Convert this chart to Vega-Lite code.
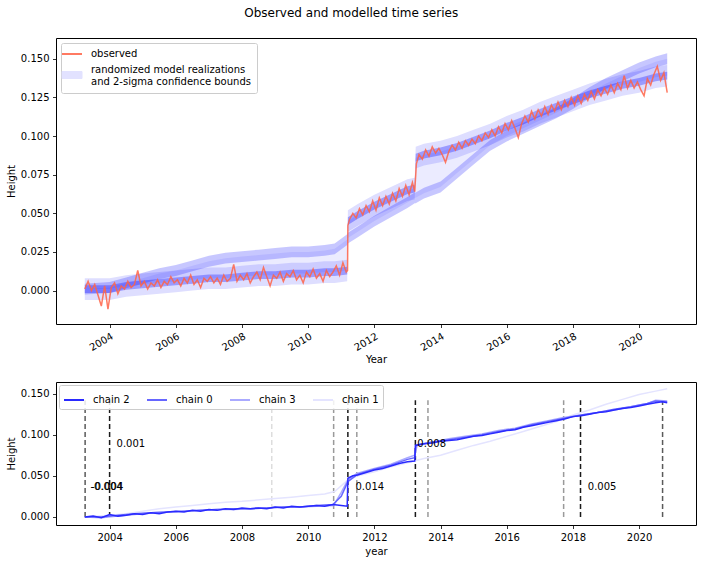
{
  "$schema": "https://vega.github.io/schema/vega-lite/v6.json",
  "padding": {"left": 5, "top": 6, "right": 6, "bottom": 4},
  "title": {"text": "Observed and modelled time series", "fontSize": 12, "fontWeight": "normal", "font": "DejaVu Sans", "color": "#000", "anchor": "middle", "offset": 18},
  "datasets": {
    "obs": [
      {"t":2003.25,"h":0.001},{"t":2003.35,"h":0.006},{"t":2003.45,"h":0.000},{"t":2003.55,"h":0.004},{"t":2003.65,"h":-0.003},{"t":2003.75,"h":-0.010},{"t":2003.85,"h":0.003},{"t":2003.95,"h":-0.012},
      {"t":2004.05,"h":0.002},{"t":2004.15,"h":0.005},{"t":2004.25,"h":-0.002},{"t":2004.35,"h":0.003},{"t":2004.45,"h":0.001},{"t":2004.55,"h":0.006},{"t":2004.65,"h":0.002},{"t":2004.75,"h":0.004},{"t":2004.85,"h":0.013},{"t":2004.95,"h":0.003},
      {"t":2005.05,"h":0.006},{"t":2005.15,"h":0.001},{"t":2005.25,"h":0.005},{"t":2005.35,"h":0.003},{"t":2005.45,"h":0.007},{"t":2005.55,"h":0.002},{"t":2005.65,"h":0.006},{"t":2005.75,"h":0.004},{"t":2005.85,"h":0.009},{"t":2005.95,"h":0.005},
      {"t":2006.05,"h":0.007},{"t":2006.15,"h":0.003},{"t":2006.25,"h":0.008},{"t":2006.35,"h":0.005},{"t":2006.45,"h":0.010},{"t":2006.55,"h":0.004},{"t":2006.65,"h":0.007},{"t":2006.75,"h":0.002},{"t":2006.85,"h":0.008},{"t":2006.95,"h":0.006},
      {"t":2007.05,"h":0.009},{"t":2007.15,"h":0.005},{"t":2007.25,"h":0.008},{"t":2007.35,"h":0.004},{"t":2007.45,"h":0.010},{"t":2007.55,"h":0.006},{"t":2007.65,"h":0.008},{"t":2007.75,"h":0.017},{"t":2007.85,"h":0.006},{"t":2007.95,"h":0.010},
      {"t":2008.05,"h":0.007},{"t":2008.15,"h":0.011},{"t":2008.25,"h":0.005},{"t":2008.35,"h":0.009},{"t":2008.45,"h":0.012},{"t":2008.55,"h":0.007},{"t":2008.65,"h":0.015},{"t":2008.75,"h":0.009},{"t":2008.85,"h":0.003},{"t":2008.95,"h":0.010},
      {"t":2009.05,"h":0.008},{"t":2009.15,"h":0.012},{"t":2009.25,"h":0.006},{"t":2009.35,"h":0.011},{"t":2009.45,"h":0.009},{"t":2009.55,"h":0.013},{"t":2009.65,"h":0.007},{"t":2009.75,"h":0.010},{"t":2009.85,"h":0.005},{"t":2009.95,"h":0.012},
      {"t":2010.05,"h":0.009},{"t":2010.15,"h":0.014},{"t":2010.25,"h":0.008},{"t":2010.35,"h":0.011},{"t":2010.45,"h":0.006},{"t":2010.55,"h":0.013},{"t":2010.65,"h":0.009},{"t":2010.75,"h":0.012},{"t":2010.85,"h":0.016},{"t":2010.95,"h":0.010},
      {"t":2011.05,"h":0.018},{"t":2011.15,"h":0.012},{"t":2011.19,"h":0.013},{"t":2011.2,"h":0.042},{"t":2011.25,"h":0.046},{"t":2011.35,"h":0.050},{"t":2011.45,"h":0.047},{"t":2011.55,"h":0.053},{"t":2011.65,"h":0.049},{"t":2011.75,"h":0.055},{"t":2011.85,"h":0.051},{"t":2011.95,"h":0.058},
      {"t":2012.05,"h":0.052},{"t":2012.15,"h":0.060},{"t":2012.25,"h":0.055},{"t":2012.35,"h":0.061},{"t":2012.45,"h":0.056},{"t":2012.55,"h":0.063},{"t":2012.65,"h":0.058},{"t":2012.75,"h":0.066},{"t":2012.85,"h":0.061},{"t":2012.95,"h":0.068},
      {"t":2013.05,"h":0.062},{"t":2013.15,"h":0.070},{"t":2013.22,"h":0.064},{"t":2013.27,"h":0.082},{"t":2013.35,"h":0.088},{"t":2013.45,"h":0.085},{"t":2013.55,"h":0.091},{"t":2013.65,"h":0.087},{"t":2013.75,"h":0.093},{"t":2013.85,"h":0.089},{"t":2013.95,"h":0.092},
      {"t":2014.05,"h":0.088},{"t":2014.15,"h":0.083},{"t":2014.25,"h":0.090},{"t":2014.35,"h":0.094},{"t":2014.45,"h":0.091},{"t":2014.55,"h":0.096},{"t":2014.65,"h":0.092},{"t":2014.75,"h":0.097},{"t":2014.85,"h":0.094},{"t":2014.95,"h":0.098},
      {"t":2015.05,"h":0.095},{"t":2015.15,"h":0.100},{"t":2015.25,"h":0.097},{"t":2015.35,"h":0.102},{"t":2015.45,"h":0.099},{"t":2015.55,"h":0.104},{"t":2015.65,"h":0.100},{"t":2015.75,"h":0.106},{"t":2015.85,"h":0.102},{"t":2015.95,"h":0.108},
      {"t":2016.05,"h":0.104},{"t":2016.15,"h":0.110},{"t":2016.25,"h":0.105},{"t":2016.35,"h":0.099},{"t":2016.45,"h":0.108},{"t":2016.55,"h":0.113},{"t":2016.65,"h":0.109},{"t":2016.75,"h":0.116},{"t":2016.85,"h":0.111},{"t":2016.95,"h":0.117},
      {"t":2017.05,"h":0.113},{"t":2017.15,"h":0.119},{"t":2017.25,"h":0.114},{"t":2017.35,"h":0.120},{"t":2017.45,"h":0.116},{"t":2017.55,"h":0.122},{"t":2017.65,"h":0.117},{"t":2017.75,"h":0.123},{"t":2017.85,"h":0.119},{"t":2017.95,"h":0.125},
      {"t":2018.05,"h":0.120},{"t":2018.15,"h":0.126},{"t":2018.25,"h":0.121},{"t":2018.35,"h":0.127},{"t":2018.45,"h":0.123},{"t":2018.55,"h":0.129},{"t":2018.65,"h":0.124},{"t":2018.75,"h":0.130},{"t":2018.85,"h":0.126},{"t":2018.95,"h":0.131},
      {"t":2019.05,"h":0.127},{"t":2019.15,"h":0.133},{"t":2019.25,"h":0.128},{"t":2019.35,"h":0.134},{"t":2019.45,"h":0.130},{"t":2019.55,"h":0.139},{"t":2019.65,"h":0.131},{"t":2019.75,"h":0.136},{"t":2019.85,"h":0.131},{"t":2019.95,"h":0.135},
      {"t":2020.05,"h":0.130},{"t":2020.15,"h":0.126},{"t":2020.25,"h":0.137},{"t":2020.35,"h":0.133},{"t":2020.45,"h":0.140},{"t":2020.55,"h":0.145},{"t":2020.65,"h":0.136},{"t":2020.75,"h":0.141},{"t":2020.85,"h":0.128}
    ],
    "bands": [
      {"t":2003.25,"tr":0.001,"st":0.001,"wlo":-0.006,"whi":0.008,"clo":-0.0015,"chi":0.0035,"slo":-0.0025,"shi":0.0045},
      {"t":2004.0,"tr":0.001,"st":0.002,"wlo":-0.006,"whi":0.008,"clo":-0.0015,"chi":0.0035,"slo":-0.0015,"shi":0.0055},
      {"t":2004.5,"tr":0.003,"st":0.005,"wlo":-0.004,"whi":0.010,"clo":0.0005,"chi":0.0055,"slo":0.0015,"shi":0.0085},
      {"t":2005.0,"tr":0.004,"st":0.008,"wlo":-0.003,"whi":0.011,"clo":0.0015,"chi":0.0065,"slo":0.0045,"shi":0.0115},
      {"t":2005.5,"tr":0.005,"st":0.011,"wlo":-0.002,"whi":0.012,"clo":0.0025,"chi":0.0075,"slo":0.0075,"shi":0.0145},
      {"t":2006.0,"tr":0.006,"st":0.013,"wlo":-0.001,"whi":0.013,"clo":0.0035,"chi":0.0085,"slo":0.0095,"shi":0.0165},
      {"t":2006.5,"tr":0.007,"st":0.016,"wlo":0.000,"whi":0.014,"clo":0.0045,"chi":0.0095,"slo":0.0125,"shi":0.0195},
      {"t":2007.0,"tr":0.008,"st":0.019,"wlo":0.001,"whi":0.015,"clo":0.0055,"chi":0.0105,"slo":0.0155,"shi":0.0225},
      {"t":2007.5,"tr":0.008,"st":0.021,"wlo":0.001,"whi":0.015,"clo":0.0055,"chi":0.0105,"slo":0.0175,"shi":0.0245},
      {"t":2008.0,"tr":0.009,"st":0.022,"wlo":0.002,"whi":0.016,"clo":0.0065,"chi":0.0115,"slo":0.0185,"shi":0.0255},
      {"t":2008.5,"tr":0.010,"st":0.023,"wlo":0.003,"whi":0.017,"clo":0.0075,"chi":0.0125,"slo":0.0195,"shi":0.0265},
      {"t":2009.0,"tr":0.010,"st":0.024,"wlo":0.003,"whi":0.017,"clo":0.0075,"chi":0.0125,"slo":0.0205,"shi":0.0275},
      {"t":2009.5,"tr":0.011,"st":0.025,"wlo":0.004,"whi":0.018,"clo":0.0085,"chi":0.0135,"slo":0.0215,"shi":0.0285},
      {"t":2010.0,"tr":0.011,"st":0.025,"wlo":0.004,"whi":0.018,"clo":0.0085,"chi":0.0135,"slo":0.0215,"shi":0.0285},
      {"t":2010.5,"tr":0.012,"st":0.026,"wlo":0.005,"whi":0.019,"clo":0.0095,"chi":0.0145,"slo":0.0225,"shi":0.0295},
      {"t":2010.8,"tr":0.012,"st":0.027,"wlo":0.005,"whi":0.019,"clo":0.0095,"chi":0.0145,"slo":0.0235,"shi":0.0305},
      {"t":2011.18,"tr":0.013,"st":0.033,"wlo":0.006,"whi":0.020,"clo":0.0105,"chi":0.0155,"slo":0.0295,"shi":0.0365},
      {"t":2011.2,"tr":0.045,"st":0.034,"wlo":0.038,"whi":0.052,"clo":0.0425,"chi":0.0475,"slo":0.0305,"shi":0.0375},
      {"t":2011.5,"tr":0.049,"st":0.038,"wlo":0.042,"whi":0.056,"clo":0.0465,"chi":0.0515,"slo":0.0345,"shi":0.0415},
      {"t":2012.0,"tr":0.055,"st":0.045,"wlo":0.048,"whi":0.062,"clo":0.0525,"chi":0.0575,"slo":0.0415,"shi":0.0485},
      {"t":2012.5,"tr":0.060,"st":0.051,"wlo":0.053,"whi":0.067,"clo":0.0575,"chi":0.0625,"slo":0.0475,"shi":0.0545},
      {"t":2013.0,"tr":0.065,"st":0.057,"wlo":0.058,"whi":0.072,"clo":0.0625,"chi":0.0675,"slo":0.0535,"shi":0.0605},
      {"t":2013.22,"tr":0.066,"st":0.060,"wlo":0.059,"whi":0.073,"clo":0.0635,"chi":0.0685,"slo":0.0565,"shi":0.0635},
      {"t":2013.25,"tr":0.086,"st":0.060,"wlo":0.079,"whi":0.093,"clo":0.0835,"chi":0.0885,"slo":0.0565,"shi":0.0635},
      {"t":2013.5,"tr":0.088,"st":0.063,"wlo":0.081,"whi":0.095,"clo":0.0855,"chi":0.0905,"slo":0.0595,"shi":0.0665},
      {"t":2014.0,"tr":0.090,"st":0.067,"wlo":0.083,"whi":0.097,"clo":0.0875,"chi":0.0925,"slo":0.0635,"shi":0.0705},
      {"t":2014.5,"tr":0.093,"st":0.076,"wlo":0.086,"whi":0.100,"clo":0.0905,"chi":0.0955,"slo":0.0725,"shi":0.0795},
      {"t":2015.0,"tr":0.097,"st":0.085,"wlo":0.090,"whi":0.104,"clo":0.0945,"chi":0.0995,"slo":0.0815,"shi":0.0885},
      {"t":2015.5,"tr":0.101,"st":0.094,"wlo":0.094,"whi":0.108,"clo":0.0985,"chi":0.1035,"slo":0.0905,"shi":0.0975},
      {"t":2016.0,"tr":0.106,"st":0.100,"wlo":0.099,"whi":0.113,"clo":0.1035,"chi":0.1085,"slo":0.0965,"shi":0.1035},
      {"t":2016.5,"tr":0.110,"st":0.105,"wlo":0.103,"whi":0.117,"clo":0.1075,"chi":0.1125,"slo":0.1015,"shi":0.1085},
      {"t":2017.0,"tr":0.115,"st":0.110,"wlo":0.108,"whi":0.122,"clo":0.1125,"chi":0.1175,"slo":0.1065,"shi":0.1135},
      {"t":2017.5,"tr":0.119,"st":0.115,"wlo":0.112,"whi":0.126,"clo":0.1165,"chi":0.1215,"slo":0.1115,"shi":0.1185},
      {"t":2018.0,"tr":0.123,"st":0.121,"wlo":0.116,"whi":0.130,"clo":0.1205,"chi":0.1255,"slo":0.1175,"shi":0.1245},
      {"t":2018.5,"tr":0.127,"st":0.128,"wlo":0.120,"whi":0.134,"clo":0.1245,"chi":0.1295,"slo":0.1245,"shi":0.1315},
      {"t":2019.0,"tr":0.130,"st":0.134,"wlo":0.123,"whi":0.137,"clo":0.1275,"chi":0.1325,"slo":0.1305,"shi":0.1375},
      {"t":2019.5,"tr":0.133,"st":0.139,"wlo":0.126,"whi":0.140,"clo":0.1305,"chi":0.1355,"slo":0.1355,"shi":0.1425},
      {"t":2020.0,"tr":0.135,"st":0.144,"wlo":0.128,"whi":0.142,"clo":0.1325,"chi":0.1375,"slo":0.1405,"shi":0.1475},
      {"t":2020.5,"tr":0.138,"st":0.148,"wlo":0.131,"whi":0.145,"clo":0.1355,"chi":0.1405,"slo":0.1445,"shi":0.1515},
      {"t":2020.85,"tr":0.139,"st":0.150,"wlo":0.132,"whi":0.146,"clo":0.1365,"chi":0.1415,"slo":0.1465,"shi":0.1535}
    ],
    "chains": [
      {"chain":"chain 1","t":2003.25,"h":0.000},{"chain":"chain 1","t":2004.0,"h":0.002},{"chain":"chain 1","t":2004.5,"h":0.004},{"chain":"chain 1","t":2005.0,"h":0.007},{"chain":"chain 1","t":2005.5,"h":0.010},{"chain":"chain 1","t":2006.0,"h":0.012},{"chain":"chain 1","t":2006.5,"h":0.014},{"chain":"chain 1","t":2007.0,"h":0.016},{"chain":"chain 1","t":2007.5,"h":0.018},{"chain":"chain 1","t":2008.0,"h":0.019},{"chain":"chain 1","t":2008.9,"h":0.022},{"chain":"chain 1","t":2009.5,"h":0.024},{"chain":"chain 1","t":2010.0,"h":0.026},{"chain":"chain 1","t":2010.5,"h":0.028},{"chain":"chain 1","t":2010.8,"h":0.031},{"chain":"chain 1","t":2011.2,"h":0.045},{"chain":"chain 1","t":2011.5,"h":0.050},{"chain":"chain 1","t":2012.0,"h":0.055},{"chain":"chain 1","t":2012.5,"h":0.061},{"chain":"chain 1","t":2013.0,"h":0.066},{"chain":"chain 1","t":2013.5,"h":0.071},{"chain":"chain 1","t":2014.0,"h":0.075},{"chain":"chain 1","t":2014.5,"h":0.081},{"chain":"chain 1","t":2015.0,"h":0.087},{"chain":"chain 1","t":2015.5,"h":0.092},{"chain":"chain 1","t":2016.0,"h":0.098},{"chain":"chain 1","t":2016.5,"h":0.104},{"chain":"chain 1","t":2017.0,"h":0.110},{"chain":"chain 1","t":2017.5,"h":0.116},{"chain":"chain 1","t":2018.0,"h":0.124},{"chain":"chain 1","t":2018.5,"h":0.130},{"chain":"chain 1","t":2019.0,"h":0.137},{"chain":"chain 1","t":2019.5,"h":0.143},{"chain":"chain 1","t":2020.0,"h":0.149},{"chain":"chain 1","t":2020.5,"h":0.153},{"chain":"chain 1","t":2020.85,"h":0.156},
      {"chain":"chain 3","t":2003.25,"h":0.000},{"chain":"chain 3","t":2003.75,"h":-0.001},{"chain":"chain 3","t":2004.25,"h":0.001},{"chain":"chain 3","t":2004.75,"h":0.003},{"chain":"chain 3","t":2005.25,"h":0.005},{"chain":"chain 3","t":2005.75,"h":0.006},{"chain":"chain 3","t":2006.25,"h":0.007},{"chain":"chain 3","t":2006.75,"h":0.008},{"chain":"chain 3","t":2007.25,"h":0.009},{"chain":"chain 3","t":2007.75,"h":0.009},{"chain":"chain 3","t":2008.25,"h":0.010},{"chain":"chain 3","t":2008.75,"h":0.011},{"chain":"chain 3","t":2009.25,"h":0.012},{"chain":"chain 3","t":2009.75,"h":0.012},{"chain":"chain 3","t":2010.25,"h":0.013},{"chain":"chain 3","t":2010.77,"h":0.014},{"chain":"chain 3","t":2011.0,"h":0.030},{"chain":"chain 3","t":2011.2,"h":0.045},{"chain":"chain 3","t":2011.47,"h":0.053},{"chain":"chain 3","t":2012.0,"h":0.059},{"chain":"chain 3","t":2012.5,"h":0.064},{"chain":"chain 3","t":2013.0,"h":0.072},{"chain":"chain 3","t":2013.22,"h":0.075},{"chain":"chain 3","t":2013.3,"h":0.088},{"chain":"chain 3","t":2013.62,"h":0.090},{"chain":"chain 3","t":2014.25,"h":0.095},{"chain":"chain 3","t":2014.75,"h":0.098},{"chain":"chain 3","t":2015.25,"h":0.101},{"chain":"chain 3","t":2015.75,"h":0.105},{"chain":"chain 3","t":2016.25,"h":0.108},{"chain":"chain 3","t":2016.75,"h":0.113},{"chain":"chain 3","t":2017.25,"h":0.117},{"chain":"chain 3","t":2017.72,"h":0.121},{"chain":"chain 3","t":2018.25,"h":0.124},{"chain":"chain 3","t":2018.75,"h":0.127},{"chain":"chain 3","t":2019.25,"h":0.130},{"chain":"chain 3","t":2019.75,"h":0.134},{"chain":"chain 3","t":2020.25,"h":0.138},{"chain":"chain 3","t":2020.5,"h":0.142},{"chain":"chain 3","t":2020.85,"h":0.141},
      {"chain":"chain 0","t":2003.25,"h":0.000},{"chain":"chain 0","t":2003.75,"h":0.000},{"chain":"chain 0","t":2004.25,"h":0.002},{"chain":"chain 0","t":2004.75,"h":0.004},{"chain":"chain 0","t":2005.25,"h":0.005},{"chain":"chain 0","t":2005.75,"h":0.006},{"chain":"chain 0","t":2006.25,"h":0.007},{"chain":"chain 0","t":2006.75,"h":0.008},{"chain":"chain 0","t":2007.25,"h":0.009},{"chain":"chain 0","t":2007.75,"h":0.010},{"chain":"chain 0","t":2008.25,"h":0.010},{"chain":"chain 0","t":2008.75,"h":0.011},{"chain":"chain 0","t":2009.25,"h":0.012},{"chain":"chain 0","t":2009.75,"h":0.012},{"chain":"chain 0","t":2010.25,"h":0.014},{"chain":"chain 0","t":2010.75,"h":0.015},{"chain":"chain 0","t":2011.0,"h":0.025},{"chain":"chain 0","t":2011.2,"h":0.043},{"chain":"chain 0","t":2011.5,"h":0.052},{"chain":"chain 0","t":2012.0,"h":0.058},{"chain":"chain 0","t":2012.5,"h":0.063},{"chain":"chain 0","t":2013.0,"h":0.070},{"chain":"chain 0","t":2013.22,"h":0.072},{"chain":"chain 0","t":2013.26,"h":0.087},{"chain":"chain 0","t":2013.75,"h":0.091},{"chain":"chain 0","t":2014.25,"h":0.094},{"chain":"chain 0","t":2014.75,"h":0.097},{"chain":"chain 0","t":2015.25,"h":0.100},{"chain":"chain 0","t":2015.75,"h":0.104},{"chain":"chain 0","t":2016.25,"h":0.107},{"chain":"chain 0","t":2016.75,"h":0.112},{"chain":"chain 0","t":2017.25,"h":0.116},{"chain":"chain 0","t":2017.75,"h":0.120},{"chain":"chain 0","t":2018.25,"h":0.124},{"chain":"chain 0","t":2018.75,"h":0.127},{"chain":"chain 0","t":2019.25,"h":0.131},{"chain":"chain 0","t":2019.75,"h":0.134},{"chain":"chain 0","t":2020.25,"h":0.138},{"chain":"chain 0","t":2020.5,"h":0.141},{"chain":"chain 0","t":2020.85,"h":0.140},
      {"chain":"chain 2","t":2003.25,"h":0.000},{"chain":"chain 2","t":2003.5,"h":0.001},{"chain":"chain 2","t":2003.75,"h":-0.001},{"chain":"chain 2","t":2004.0,"h":0.003},{"chain":"chain 2","t":2004.25,"h":0.001},{"chain":"chain 2","t":2004.5,"h":0.002},{"chain":"chain 2","t":2004.75,"h":0.004},{"chain":"chain 2","t":2005.0,"h":0.003},{"chain":"chain 2","t":2005.25,"h":0.005},{"chain":"chain 2","t":2005.5,"h":0.004},{"chain":"chain 2","t":2005.75,"h":0.006},{"chain":"chain 2","t":2006.0,"h":0.007},{"chain":"chain 2","t":2006.25,"h":0.006},{"chain":"chain 2","t":2006.5,"h":0.008},{"chain":"chain 2","t":2006.75,"h":0.007},{"chain":"chain 2","t":2007.0,"h":0.009},{"chain":"chain 2","t":2007.25,"h":0.008},{"chain":"chain 2","t":2007.5,"h":0.010},{"chain":"chain 2","t":2007.75,"h":0.009},{"chain":"chain 2","t":2008.0,"h":0.011},{"chain":"chain 2","t":2008.25,"h":0.010},{"chain":"chain 2","t":2008.5,"h":0.011},{"chain":"chain 2","t":2008.75,"h":0.010},{"chain":"chain 2","t":2009.0,"h":0.012},{"chain":"chain 2","t":2009.25,"h":0.011},{"chain":"chain 2","t":2009.5,"h":0.013},{"chain":"chain 2","t":2009.75,"h":0.012},{"chain":"chain 2","t":2010.0,"h":0.013},{"chain":"chain 2","t":2010.25,"h":0.014},{"chain":"chain 2","t":2010.5,"h":0.013},{"chain":"chain 2","t":2010.75,"h":0.015},{"chain":"chain 2","t":2011.0,"h":0.014},{"chain":"chain 2","t":2011.18,"h":0.013},{"chain":"chain 2","t":2011.2,"h":0.047},{"chain":"chain 2","t":2011.35,"h":0.050},{"chain":"chain 2","t":2011.5,"h":0.051},{"chain":"chain 2","t":2011.75,"h":0.054},{"chain":"chain 2","t":2012.0,"h":0.057},{"chain":"chain 2","t":2012.25,"h":0.059},{"chain":"chain 2","t":2012.5,"h":0.062},{"chain":"chain 2","t":2012.75,"h":0.065},{"chain":"chain 2","t":2013.0,"h":0.067},{"chain":"chain 2","t":2013.22,"h":0.068},{"chain":"chain 2","t":2013.24,"h":0.087},{"chain":"chain 2","t":2013.5,"h":0.089},{"chain":"chain 2","t":2013.75,"h":0.090},{"chain":"chain 2","t":2014.0,"h":0.092},{"chain":"chain 2","t":2014.25,"h":0.093},{"chain":"chain 2","t":2014.5,"h":0.094},{"chain":"chain 2","t":2014.75,"h":0.096},{"chain":"chain 2","t":2015.0,"h":0.098},{"chain":"chain 2","t":2015.25,"h":0.099},{"chain":"chain 2","t":2015.5,"h":0.101},{"chain":"chain 2","t":2015.75,"h":0.103},{"chain":"chain 2","t":2016.0,"h":0.105},{"chain":"chain 2","t":2016.25,"h":0.106},{"chain":"chain 2","t":2016.5,"h":0.109},{"chain":"chain 2","t":2016.75,"h":0.111},{"chain":"chain 2","t":2017.0,"h":0.113},{"chain":"chain 2","t":2017.25,"h":0.115},{"chain":"chain 2","t":2017.5,"h":0.117},{"chain":"chain 2","t":2017.75,"h":0.119},{"chain":"chain 2","t":2018.0,"h":0.122},{"chain":"chain 2","t":2018.25,"h":0.123},{"chain":"chain 2","t":2018.5,"h":0.125},{"chain":"chain 2","t":2018.75,"h":0.127},{"chain":"chain 2","t":2019.0,"h":0.128},{"chain":"chain 2","t":2019.25,"h":0.130},{"chain":"chain 2","t":2019.5,"h":0.132},{"chain":"chain 2","t":2019.75,"h":0.133},{"chain":"chain 2","t":2020.0,"h":0.135},{"chain":"chain 2","t":2020.25,"h":0.137},{"chain":"chain 2","t":2020.5,"h":0.139},{"chain":"chain 2","t":2020.7,"h":0.140},{"chain":"chain 2","t":2020.85,"h":0.139}
    ],
    "cps": [
      {"t":2003.26,"chain":"chain 0"},{"t":2004.0,"chain":"chain 2"},{"t":2008.9,"chain":"chain 1"},{"t":2010.77,"chain":"chain 3"},{"t":2011.2,"chain":"chain 2"},{"t":2011.47,"chain":"chain 3"},{"t":2013.24,"chain":"chain 2"},{"t":2013.62,"chain":"chain 3"},{"t":2017.72,"chain":"chain 3"},{"t":2018.23,"chain":"chain 2"},{"t":2020.71,"chain":"chain 0"}
    ],
    "labels": [
      {"t":2003.42,"v":0.037,"text":"-0.004"},{"t":2003.44,"v":0.037,"text":"-0.004"},{"t":2004.21,"v":0.089,"text":"0.001"},{"t":2011.43,"v":0.037,"text":"0.014"},{"t":2013.3,"v":0.089,"text":"0.008"},{"t":2018.45,"v":0.037,"text":"0.005"}
    ]
  },
  "vconcat": [
    {
      "width": 640,
      "height": 286,
      "encoding": {
        "x": {"field": "t", "type": "quantitative", "scale": {"domain": [2002.38, 2021.72], "nice": false, "zero": false},
              "axis": {"title": "Year", "values": [2004,2006,2008,2010,2012,2014,2016,2018,2020], "format": "d", "labelAngle": 330, "labelAlign": "right", "labelBaseline": "top", "labelOverlap": false, "titlePadding": 2}}
      },
      "layer": [
        {
          "data": {"name": "bands"},
          "mark": {"type": "area", "opacity": 1},
          "encoding": {
            "y": {"field": "wlo", "type": "quantitative", "scale": {"domain": [-0.0216, 0.1634], "nice": false, "zero": false},
                  "axis": {"title": "Height", "values": [0,0.025,0.05,0.075,0.1,0.125,0.15], "format": ".3f"}},
            "y2": {"field": "whi"},
            "color": {"datum": "model", "type": "nominal",
              "scale": {"domain": ["observed", "model"], "range": ["#ff6347", "#dedeff"]},
              "legend": {"title": null, "orient": "top-left", "offset": 5, "padding": 6, "fillColor": "rgba(255,255,255,0.85)", "strokeColor": "#cccccc", "cornerRadius": 2,
                "labelFontSize": 10, "labelColor": "#000", "labelOffset": 14, "rowPadding": 6, "symbolSize": 400, "labelLimit": 300,
                "labelExpr": "datum.value == 'observed' ? 'observed' : ['randomized model realizations', '\u00a0and 2-sigma confidence bounds']",
                "symbolType": {"expr": "datum.value == 'observed' ? 'M-1,0H1' : 'M-1,0.15H1V0.85H-1Z'"},
                "symbolStrokeColor": {"expr": "datum.value == 'observed' ? '#ff7a62' : '#c8c8fb'"},
                "symbolStrokeWidth": {"expr": "datum.value == 'observed' ? 2 : 1"},
                "symbolOpacity": 1
              }}
          }
        },
        {
          "data": {"name": "bands"},
          "mark": {"type": "area", "color": "#0000ff", "opacity": 0.08},
          "encoding": {"y": {"field": "tr", "type": "quantitative"}, "y2": {"field": "st"}}
        },
        {
          "data": {"name": "bands"},
          "mark": {"type": "area", "color": "#0000ff", "opacity": 0.22},
          "encoding": {"y": {"field": "slo", "type": "quantitative"}, "y2": {"field": "shi"}}
        },
        {
          "data": {"name": "bands"},
          "mark": {"type": "area", "color": "#0000ff", "opacity": 0.3},
          "encoding": {"y": {"field": "clo", "type": "quantitative"}, "y2": {"field": "chi"}}
        },
        {
          "data": {"name": "obs"},
          "mark": {"type": "line", "strokeWidth": 1.5, "opacity": 0.85},
          "encoding": {
            "y": {"field": "h", "type": "quantitative"},
            "color": {"datum": "observed", "type": "nominal"}
          }
        }
      ]
    },
    {
      "width": 640,
      "height": 143,
      "encoding": {
        "x": {"field": "t", "type": "quantitative", "scale": {"domain": [2002.38, 2021.72], "nice": false, "zero": false},
              "axis": {"title": "year", "values": [2004,2006,2008,2010,2012,2014,2016,2018,2020], "format": "d", "labelOverlap": false}}
      },
      "layer": [
        {
          "data": {"name": "cps"},
          "transform": [{"filter": "datum.chain == 'chain 1'"}],
          "mark": {"type": "rule", "strokeDash": [5, 3], "strokeWidth": 1.5, "color": "#dddddd"},
          "encoding": {
            "y": {"datum": 0, "type": "quantitative", "scale": {"domain": [-0.0098, 0.1641], "nice": false, "zero": false},
                  "axis": {"title": "Height", "values": [0,0.025,0.05,0.075,0.1,0.125,0.15], "format": ".3f"}},
            "y2": {"datum": 0.142}
          }
        },
        {
          "data": {"name": "cps"},
          "transform": [{"filter": "datum.chain == 'chain 3'"}],
          "mark": {"type": "rule", "strokeDash": [5, 3], "strokeWidth": 1.5, "color": "#9a9a9a"},
          "encoding": {"y": {"datum": 0, "type": "quantitative"}, "y2": {"datum": 0.142}}
        },
        {
          "data": {"name": "cps"},
          "transform": [{"filter": "datum.chain == 'chain 0'"}],
          "mark": {"type": "rule", "strokeDash": [5, 3], "strokeWidth": 1.5, "color": "#5a5a5a"},
          "encoding": {"y": {"datum": 0, "type": "quantitative"}, "y2": {"datum": 0.142}}
        },
        {
          "data": {"name": "cps"},
          "transform": [{"filter": "datum.chain == 'chain 2'"}],
          "mark": {"type": "rule", "strokeDash": [5, 3], "strokeWidth": 1.5, "color": "#1a1a1a"},
          "encoding": {"y": {"datum": 0, "type": "quantitative"}, "y2": {"datum": 0.142}}
        },
        {
          "data": {"name": "chains"},
          "mark": {"type": "line", "strokeWidth": 1.5},
          "encoding": {
            "y": {"field": "h", "type": "quantitative"},
            "color": {"field": "chain", "type": "nominal", "sort": null,
              "scale": {"domain": ["chain 2","chain 0","chain 3","chain 1"], "range": ["#2a2aff", "#6666ff", "#aaaaff", "#e4e4ff"]},
              "legend": {"title": null, "orient": "top-left", "direction": "horizontal", "columns": 4, "offset": 3, "padding": 4,
                "symbolType": "stroke", "symbolSize": 400, "symbolStrokeWidth": 2, "fillColor": "rgba(255,255,255,0.85)", "strokeColor": "#cccccc", "cornerRadius": 2,
                "labelFontSize": 10, "labelColor": "#000", "labelOffset": 8, "columnPadding": 13}}
          }
        },
        {
          "data": {"name": "labels"},
          "mark": {"type": "text", "align": "left", "baseline": "middle", "fontSize": 10, "color": "#000"},
          "encoding": {
            "y": {"field": "v", "type": "quantitative"},
            "text": {"field": "text"}
          }
        }
      ]
    }
  ],
  "spacing": 58,
  "bounds": "flush",
  "resolve": {"scale": {"x": "independent", "y": "independent", "color": "independent"}, "legend": {"color": "independent"}},
  "config": {
    "font": "DejaVu Sans",
    "view": {"stroke": "#000000", "strokeWidth": 1},
    "axis": {"domain": false, "grid": false, "tickColor": "#000", "tickSize": 3.5, "tickWidth": 0.8, "labelColor": "#000", "labelFontSize": 10, "labelFont": "DejaVu Sans", "titleColor": "#000", "titleFontSize": 10, "titleFontWeight": "normal", "titleFont": "DejaVu Sans", "labelPadding": 3.5},
    "legend": {"labelFont": "DejaVu Sans"}
  }
}
